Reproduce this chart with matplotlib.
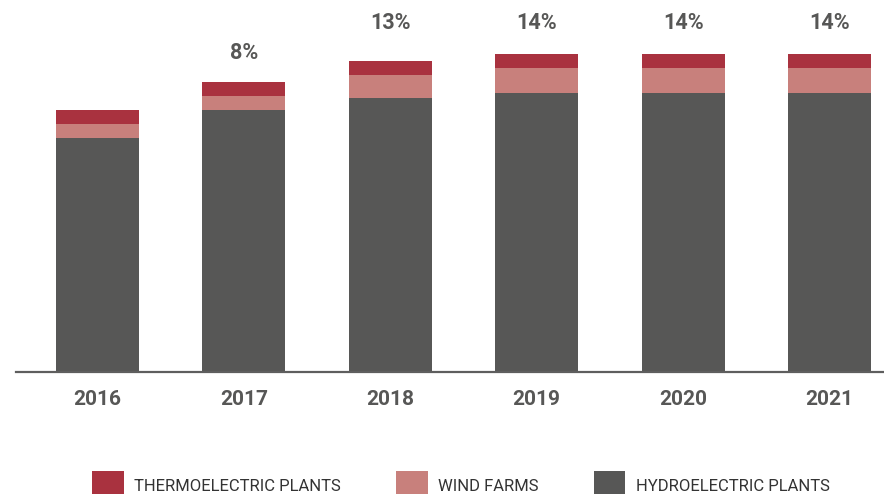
import matplotlib.pyplot as plt
import numpy as np

years = ["2016", "2017", "2018", "2019", "2020", "2021"]
hydro = np.array([233, 261, 273, 278, 278, 278])
wind = np.array([14, 14, 23, 25, 25, 25])
thermo = np.array([14, 14, 14, 14, 14, 14])
share_labels = ["", "8%", "13%", "14%", "14%", "14%"]

c_hydro = "#575756"
c_wind = "#c8807c"
c_thermo = "#a9323f"
c_text = "#575756"

plt.rcParams['font.family'] = ['Roboto', 'DejaVu Sans']

fig = plt.figure(figsize=(8.84, 4.94), dpi=100)
ax = fig.add_axes([16 / 884, 122 / 494, 868 / 884, 372 / 494])

x = np.arange(len(years))
w = 0.567
ax.bar(x, hydro, w, color=c_hydro, label="HYDROELECTRIC PLANTS", zorder=2)
ax.bar(x, wind, w, bottom=hydro, color=c_wind, label="WIND FARMS", zorder=2)
ax.bar(x, thermo, w, bottom=hydro + wind, color=c_thermo,
       label="THERMOELECTRIC PLANTS", zorder=2)

totals = hydro + wind + thermo
label_y = np.where(totals > 300, 348, totals + 29)
for xi, yi, txt in zip(x, label_y, share_labels):
    ax.text(xi, yi, txt, ha="center", va="center", fontsize=15.5,
            fontweight="bold", color=c_text)

ax.set_xlim(-0.557, 5.372)
ax.set_ylim(0, 371)
ax.set_xticks(x)
ax.set_xticklabels(years, fontsize=15, fontweight="bold", color=c_text)
ax.tick_params(axis="x", length=0, pad=13)
ax.set_yticks([])
for side in ["left", "right", "top"]:
    ax.spines[side].set_visible(False)
ax.spines["bottom"].set_color("#5e5e5e")
ax.spines["bottom"].set_linewidth(1.6)
ax.spines["bottom"].set_zorder(3)

handles, labels = ax.get_legend_handles_labels()
fig.legend(handles[::-1], labels[::-1], ncol=3, loc="lower left",
           bbox_to_anchor=(92 / 884, -6 / 494), frameon=False,
           fontsize=12, labelcolor="#333333",
           handlelength=1.9, handleheight=2.3, handletextpad=0.65,
           columnspacing=3.28, borderpad=0, borderaxespad=0)

fig.savefig("out.png", dpi=100)
